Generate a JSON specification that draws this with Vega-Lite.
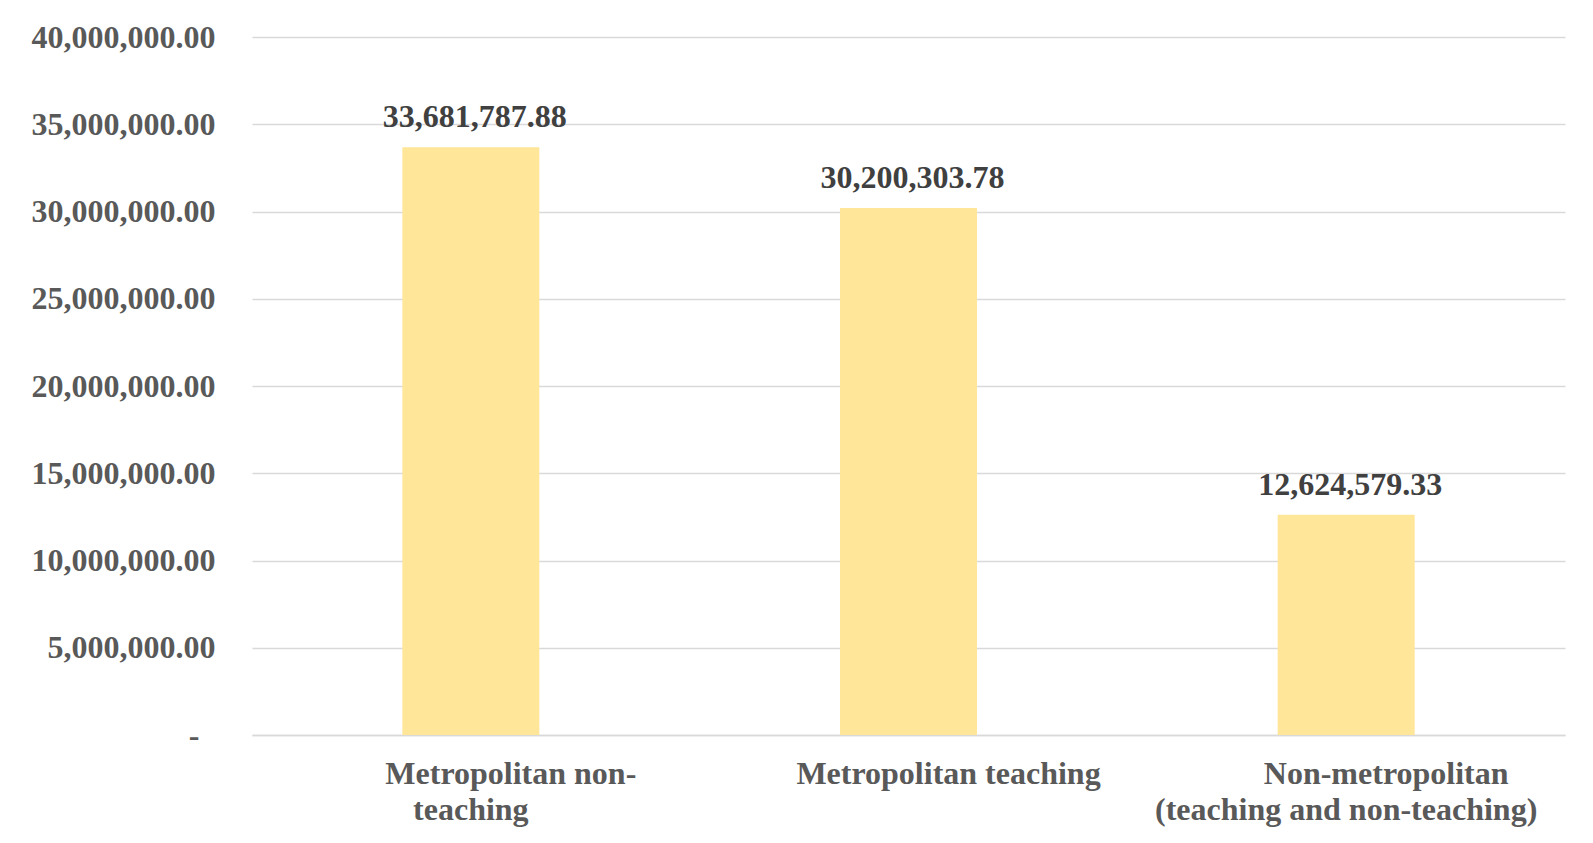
{
  "$schema": "https://vega.github.io/schema/vega-lite/v6.json",
  "width": 1313,
  "height": 698,
  "autosize": {"type": "none"},
  "padding": {"left": 252, "top": 37, "right": 28, "bottom": 108},
  "background": "white",
  "data": {
    "values": [
      {"category": "Metropolitan non-teaching", "value": 33681787.88},
      {"category": "Metropolitan teaching", "value": 30200303.78},
      {"category": "Non-metropolitan (teaching and non-teaching)", "value": 12624579.33}
    ]
  },
  "config": {
    "view": {"stroke": null},
    "font": "Liberation Serif"
  },
  "encoding": {
    "x": {
      "field": "category",
      "type": "nominal",
      "sort": null,
      "scale": {"paddingInner": 0.687, "paddingOuter": 0.3435},
      "axis": {
        "title": null,
        "labelAngle": 0,
        "domain": true,
        "domainColor": "#D9D9D9",
        "domainWidth": 1.5,
        "ticks": false,
        "labelFont": "Liberation Serif",
        "labelFontWeight": "bold",
        "labelFontSize": 32,
        "labelColor": "#595959",
        "labelPadding": 23,
        "labelLineHeight": 36,
        "labelLimit": 0,
        "labelExpr": "datum.label == 'Metropolitan non-teaching' ? ['\u200b\u00a0\u00a0\u00a0\u00a0\u00a0\u00a0\u00a0\u00a0\u00a0\u00a0Metropolitan non-', 'teaching'] : datum.label == 'Non-metropolitan (teaching and non-teaching)' ? ['\u200b\u00a0\u00a0\u00a0\u00a0\u00a0\u00a0\u00a0\u00a0\u00a0\u00a0Non-metropolitan', '(teaching and non-teaching)'] : '\u200b\u00a0\u00a0\u00a0\u00a0\u00a0\u00a0\u00a0\u00a0\u00a0\u00a0' + datum.label"
      }
    },
    "y": {
      "field": "value",
      "type": "quantitative",
      "scale": {"domain": [0, 40000000], "nice": false},
      "axis": {
        "title": null,
        "values": [0, 5000000, 10000000, 15000000, 20000000, 25000000, 30000000, 35000000, 40000000],
        "domain": false,
        "ticks": false,
        "grid": true,
        "gridColor": "#D9D9D9",
        "gridWidth": 1.5,
        "labelFont": "Liberation Serif",
        "labelFontWeight": "bold",
        "labelFontSize": 32,
        "labelColor": "#595959",
        "labelPadding": 37,
        "labelLimit": 0,
        "labelExpr": "datum.value == 0 ? '-\u00a0\u00a0\u200b' : format(datum.value, ',.2f')"
      }
    }
  },
  "layer": [
    {
      "mark": {"type": "bar", "color": "#FFE699"}
    },
    {
      "mark": {
        "type": "text",
        "baseline": "alphabetic",
        "dy": -20,
        "dx": 4,
        "font": "Liberation Serif",
        "fontWeight": "bold",
        "fontSize": 32,
        "color": "#404040"
      },
      "encoding": {
        "text": {"field": "value", "type": "quantitative", "format": ",.2f"}
      }
    }
  ]
}
